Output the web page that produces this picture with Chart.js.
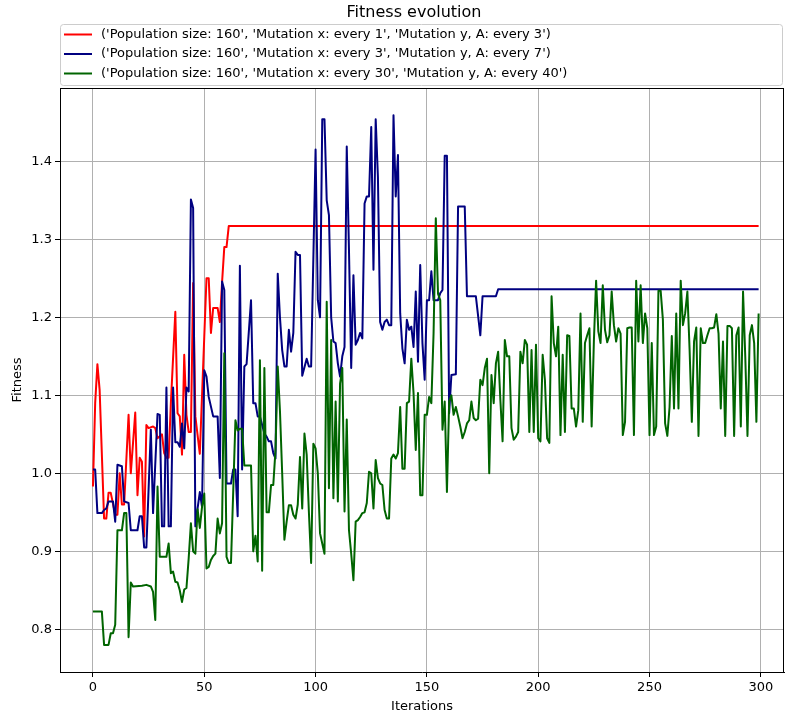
<!DOCTYPE html>
<html>
<head>
<meta charset="utf-8">
<script src="https://cdn.jsdelivr.net/npm/chart.js@4"></script>
<style>
  html, body { margin: 0; padding: 0; background: #fff; overflow: hidden; }
</style>
</head>
<body>
<canvas id="fitnessChart" width="785" height="718"></canvas>
<script>
// Fitness evolution - three runs, population 160
var chartTitle = "Fitness evolution";
var seriesLabels = [
  "('Population size: 160', 'Mutation x: every 1', 'Mutation y, A: every 3')",
  "('Population size: 160', 'Mutation x: every 3', 'Mutation y, A: every 7')",
  "('Population size: 160', 'Mutation x: every 30', 'Mutation y, A: every 40')"
];
var seriesColors = ['#ff0000', '#000080', '#006400'];

var xTicks = [0, 50, 100, 150, 200, 250, 300];
var yTicks = [0.8, 0.9, 1.0, 1.1, 1.2, 1.3, 1.4];

// red run (flat after iteration 61)
var redIters = [0, 1, 2, 3, 5, 6, 7, 8, 10, 11, 12, 13, 14, 16, 17, 19, 20, 21, 22, 23, 24, 25, 27, 28, 29, 31, 32, 33, 34, 35, 37, 38, 39, 40, 41, 42, 43, 44, 45, 46, 48, 50, 51, 52, 53, 54, 56, 57, 58, 59, 60, 61, 299];
var redVals = [0.983, 1.09, 1.14, 1.107, 0.942, 0.942, 0.975, 0.975, 0.947, 0.947, 1.0, 0.96, 0.96, 1.075, 1.0, 1.078, 0.972, 1.02, 1.015, 0.919, 1.062, 1.058, 1.06, 1.058, 1.045, 1.05, 1.026, 1.02, 1.02, 1.09, 1.207, 1.077, 1.073, 1.024, 1.152, 1.075, 1.053, 1.053, 1.244, 1.073, 1.025, 1.175, 1.25, 1.25, 1.18, 1.212, 1.212, 1.194, 1.245, 1.29, 1.29, 1.317, 1.317];

// blue run
var blueIters = [0, 1, 2, 4, 5, 6, 7, 9, 10, 11, 13, 14, 16, 17, 20, 21, 22, 23, 24, 26, 27, 29, 30, 31, 32, 33, 34, 35, 36, 37, 38, 39, 40, 41, 42, 43, 44, 45, 46, 47, 48, 49, 50, 51, 52, 54, 56, 57, 58, 59, 60, 62, 63, 64, 65, 66, 67, 68, 69, 71, 72, 73, 74, 75, 77, 78, 79, 80, 81, 82, 83, 84, 85, 86, 87, 88, 89, 90, 91, 92, 93, 94, 96, 97, 98, 100, 101, 102, 103, 104, 105, 106, 107, 108, 109, 110, 111, 112, 113, 114, 115, 116, 117, 118, 119, 120, 121, 122, 123, 124, 125, 126, 127, 128, 129, 130, 131, 132, 133, 134, 135, 136, 137, 138, 139, 140, 141, 142, 143, 144, 145, 146, 147, 148, 149, 150, 151, 152, 153, 155, 156, 157, 158, 159, 160, 161, 163, 164, 167, 168, 172, 174, 175, 181, 182, 299];
var blueVals = [1.005, 1.005, 0.949, 0.949, 0.953, 0.955, 0.964, 0.964, 0.938, 1.011, 1.009, 0.964, 0.962, 0.927, 0.927, 0.945, 0.945, 0.905, 0.905, 1.056, 0.949, 1.076, 1.075, 0.932, 0.932, 1.11, 0.932, 0.932, 1.11, 1.04, 1.04, 1.034, 1.064, 1.032, 1.11, 1.105, 1.351, 1.34, 0.932, 0.955, 0.976, 0.957, 1.132, 1.124, 1.098, 1.073, 1.073, 0.994, 1.246, 1.235, 0.987, 0.987, 1.005, 1.005, 0.945, 1.266, 1.005, 1.137, 1.14, 1.222, 1.09, 1.09, 1.073, 1.073, 1.051, 1.047, 1.041, 1.041, 1.026, 1.019, 1.256, 1.2, 1.158, 1.137, 1.137, 1.184, 1.156, 1.18, 1.284, 1.28, 1.28, 1.125, 1.147, 1.137, 1.137, 1.415, 1.222, 1.2, 1.454, 1.454, 1.35, 1.331, 1.2, 1.169, 1.167, 1.141, 1.124, 1.15, 1.162, 1.419, 1.286, 1.135, 1.254, 1.165, 1.171, 1.18, 1.173, 1.346, 1.355, 1.355, 1.444, 1.261, 1.454, 1.38, 1.194, 1.184, 1.194, 1.197, 1.19, 1.19, 1.459, 1.355, 1.408, 1.205, 1.16, 1.141, 1.197, 1.184, 1.188, 1.162, 1.233, 1.143, 1.267, 1.167, 1.12, 1.222, 1.222, 1.259, 1.222, 1.222, 1.231, 1.235, 1.407, 1.407, 1.077, 1.126, 1.127, 1.342, 1.342, 1.227, 1.227, 1.177, 1.227, 1.227, 1.236, 1.236];

// green run
var greenIters = [0, 4, 5, 7, 8, 9, 10, 11, 13, 14, 15, 16, 17, 18, 22, 24, 26, 27, 28, 29, 30, 33, 34, 35, 36, 37, 38, 39, 40, 41, 42, 43, 44, 45, 46, 47, 48, 49, 50, 51, 52, 53, 54, 55, 56, 57, 58, 59, 60, 61, 62, 64, 65, 66, 67, 68, 71, 72, 73, 74, 75, 76, 77, 78, 79, 80, 81, 82, 83, 84, 85, 86, 87, 88, 89, 90, 91, 92, 93, 94, 95, 96, 97, 98, 99, 100, 101, 102, 103, 104, 105, 106, 107, 108, 109, 110, 111, 112, 113, 114, 115, 116, 117, 118, 119, 120, 121, 122, 123, 124, 125, 126, 127, 128, 129, 130, 131, 132, 133, 134, 135, 136, 137, 138, 139, 140, 141, 142, 143, 144, 145, 146, 147, 148, 149, 150, 151, 152, 153, 154, 155, 156, 157, 158, 159, 160, 161, 162, 163, 164, 165, 166, 167, 168, 169, 170, 171, 172, 173, 174, 175, 176, 177, 178, 179, 180, 181, 182, 183, 184, 185, 186, 187, 188, 189, 190, 191, 192, 193, 194, 195, 196, 197, 198, 199, 200, 201, 202, 203, 204, 205, 206, 207, 208, 209, 210, 211, 212, 213, 214, 215, 216, 217, 218, 219, 220, 221, 222, 223, 224, 225, 226, 227, 228, 229, 230, 231, 232, 233, 234, 235, 236, 237, 238, 239, 240, 241, 242, 243, 244, 245, 246, 247, 248, 249, 250, 251, 252, 253, 254, 255, 256, 257, 258, 259, 260, 261, 262, 263, 264, 265, 266, 267, 268, 269, 270, 271, 272, 273, 274, 275, 276, 277, 278, 279, 280, 281, 282, 283, 284, 285, 286, 287, 288, 289, 290, 291, 292, 293, 294, 295, 296, 297, 298, 299];
var greenVals = [0.823, 0.823, 0.78, 0.78, 0.795, 0.795, 0.806, 0.927, 0.927, 0.949, 0.949, 0.79, 0.86, 0.855, 0.856, 0.857, 0.855, 0.848, 0.812, 0.983, 0.893, 0.893, 0.91, 0.872, 0.874, 0.861, 0.86, 0.85, 0.835, 0.851, 0.853, 0.891, 0.936, 0.9, 0.897, 0.954, 0.93, 0.957, 0.974, 0.878, 0.88, 0.889, 0.894, 0.897, 0.942, 0.923, 0.936, 1.154, 0.893, 0.885, 0.885, 1.068, 1.055, 1.057, 1.057, 1.01, 1.01, 0.9, 0.92, 0.887, 1.145, 0.875, 1.135, 0.95, 0.95, 0.985, 0.985, 1.03, 1.137, 1.08, 1.0, 0.915, 0.938, 0.959, 0.959, 0.947, 0.942, 0.96, 1.021, 0.955, 1.051, 1.024, 0.95, 0.885, 1.038, 1.032, 1.0, 0.923, 0.91, 0.897, 1.22, 0.981, 1.171, 0.968, 1.092, 0.964, 1.115, 1.135, 0.951, 1.069, 0.927, 0.897, 0.863, 0.938, 0.94, 0.944, 0.949, 0.95, 0.962, 1.002, 1.0, 0.955, 1.017, 0.994, 0.987, 0.985, 0.953, 0.942, 0.942, 1.019, 1.024, 1.019, 1.026, 1.085, 1.006, 1.006, 1.09, 1.092, 1.147, 1.103, 1.03, 1.103, 0.972, 0.972, 1.075, 1.075, 1.098, 1.09, 1.18, 1.327, 1.23, 1.222, 1.056, 1.092, 0.976, 1.092, 1.1, 1.075, 1.085, 1.073, 1.06, 1.045, 1.053, 1.064, 1.068, 1.092, 1.071, 1.068, 1.07, 1.12, 1.113, 1.135, 1.147, 1.0, 1.126, 1.09, 1.141, 1.156, 1.094, 1.041, 1.171, 1.15, 1.15, 1.058, 1.043, 1.047, 1.053, 1.156, 1.141, 1.171, 1.165, 1.053, 1.158, 1.053, 1.165, 1.045, 1.041, 1.152, 1.12, 1.045, 1.039, 1.227, 1.167, 1.15, 1.188, 1.049, 1.152, 1.053, 1.177, 1.176, 1.083, 1.083, 1.06, 1.081, 1.205, 1.066, 1.167, 1.177, 1.186, 1.06, 1.169, 1.247, 1.182, 1.167, 1.241, 1.184, 1.168, 1.177, 1.233, 1.19, 1.169, 1.186, 1.179, 1.049, 1.066, 1.186, 1.187, 1.187, 1.049, 1.247, 1.169, 1.241, 1.167, 1.205, 1.186, 1.049, 1.167, 1.049, 1.06, 1.234, 1.234, 1.197, 1.064, 1.048, 1.085, 1.176, 1.083, 1.205, 1.083, 1.247, 1.19, 1.205, 1.233, 1.158, 1.066, 1.169, 1.187, 1.048, 1.186, 1.167, 1.167, 1.177, 1.186, 1.186, 1.187, 1.204, 1.179, 1.083, 1.169, 1.048, 1.189, 1.189, 1.186, 1.048, 1.177, 1.187, 1.06, 1.233, 1.15, 1.048, 1.177, 1.19, 1.167, 1.066, 1.205];

function toPoints(iters, vals) {
  return iters.map(function (x, i) { return { x: x, y: vals[i] }; });
}

var fontFamily = "'DejaVu Sans', sans-serif";

// frame (top/right spines), title and boxed legend like matplotlib
var mplDecor = {
  id: 'mplDecor',
  afterDatasetsDraw: function (chart) {
    var a = chart.chartArea;
    var ctx = chart.ctx;
    ctx.save();
    ctx.strokeStyle = '#000';
    ctx.lineWidth = 1;
    ctx.beginPath();
    ctx.moveTo(a.left, Math.round(a.top) + 0.5);
    ctx.lineTo(a.right, Math.round(a.top) + 0.5);
    ctx.moveTo(Math.round(a.right) - 0.5, a.top);
    ctx.lineTo(Math.round(a.right) - 0.5, a.bottom);
    ctx.stroke();
    ctx.restore();
  },
  afterDraw: function (chart) {
    var a = chart.chartArea;
    var ctx = chart.ctx;
    ctx.save();
    // title
    ctx.fillStyle = '#000';
    ctx.font = '16px ' + fontFamily;
    ctx.textAlign = 'center';
    ctx.textBaseline = 'middle';
    ctx.fillText(chartTitle, 414, 13);

    // legend box
    var bx = a.left + 0.5, by = 24.5, bw = a.right - a.left - 2, bh = 61, r = 3;
    ctx.beginPath();
    ctx.moveTo(bx + r, by);
    ctx.lineTo(bx + bw - r, by);
    ctx.arcTo(bx + bw, by, bx + bw, by + r, r);
    ctx.lineTo(bx + bw, by + bh - r);
    ctx.arcTo(bx + bw, by + bh, bx + bw - r, by + bh, r);
    ctx.lineTo(bx + r, by + bh);
    ctx.arcTo(bx, by + bh, bx, by + bh - r, r);
    ctx.lineTo(bx, by + r);
    ctx.arcTo(bx, by, bx + r, by, r);
    ctx.closePath();
    ctx.fillStyle = 'rgba(255,255,255,0.8)';
    ctx.fill();
    ctx.strokeStyle = '#cccccc';
    ctx.stroke();

    ctx.font = '13px ' + fontFamily;
    ctx.textAlign = 'left';
    var rows = [34.5, 54, 73.5];
    chart.data.datasets.forEach(function (ds, i) {
      ctx.strokeStyle = ds.borderColor;
      ctx.lineWidth = 2;
      ctx.beginPath();
      ctx.moveTo(64, rows[i]);
      ctx.lineTo(92, rows[i]);
      ctx.stroke();
      ctx.fillStyle = '#000';
      ctx.fillText(ds.label, 101, rows[i]);
    });
    ctx.restore();
  }
};

var ctx = document.getElementById('fitnessChart').getContext('2d');
var fitnessChart = new Chart(ctx, {
  type: 'line',
  data: {
    datasets: [
      { label: seriesLabels[0], data: toPoints(redIters, redVals), borderColor: seriesColors[0], order: 2 },
      { label: seriesLabels[1], data: toPoints(blueIters, blueVals), borderColor: seriesColors[1], order: 1 },
      { label: seriesLabels[2], data: toPoints(greenIters, greenVals), borderColor: seriesColors[2], order: 0 }
    ]
  },
  options: {
    responsive: false,
    animation: false,
    devicePixelRatio: 1,
    layout: { padding: { top: 88, right: 1, left: 0, bottom: 0 } },
    elements: {
      line: { borderWidth: 2, tension: 0, fill: false, borderJoinStyle: 'round' },
      point: { radius: 0 }
    },
    plugins: {
      legend: { display: false },
      tooltip: { enabled: false },
      title: { display: false }
    },
    scales: {
      x: {
        type: 'linear',
        min: -14.8,
        max: 310.4,
        afterBuildTicks: function (s) { s.ticks = xTicks.map(function (v) { return { value: v }; }); },
        afterFit: function (s) { s.height = 46; },
        grid: { color: '#b0b0b0', lineWidth: 1, tickLength: 5, tickColor: '#000' },
        border: { color: '#000', width: 1 },
        ticks: { color: '#000', font: { family: fontFamily, size: 13 }, padding: 3, maxRotation: 0, autoSkip: false },
        title: { display: true, text: 'Iterations', color: '#000', font: { family: fontFamily, size: 13 }, padding: { top: 2, bottom: 4 } }
      },
      y: {
        min: 0.7453,
        max: 1.494,
        afterBuildTicks: function (s) { s.ticks = yTicks.map(function (v) { return { value: v }; }); },
        afterFit: function (s) { s.width = 60; },
        grid: { color: '#b0b0b0', lineWidth: 1, tickLength: 5, tickColor: '#000' },
        border: { color: '#000', width: 1 },
        ticks: {
          color: '#000', font: { family: fontFamily, size: 13 }, padding: 3,
          callback: function (v) { return v.toFixed(1); }
        },
        title: { display: true, text: 'Fitness', color: '#000', font: { family: fontFamily, size: 13 }, padding: { top: 10, bottom: 2 } }
      }
    }
  },
  plugins: [mplDecor]
});
</script>
</body>
</html>
